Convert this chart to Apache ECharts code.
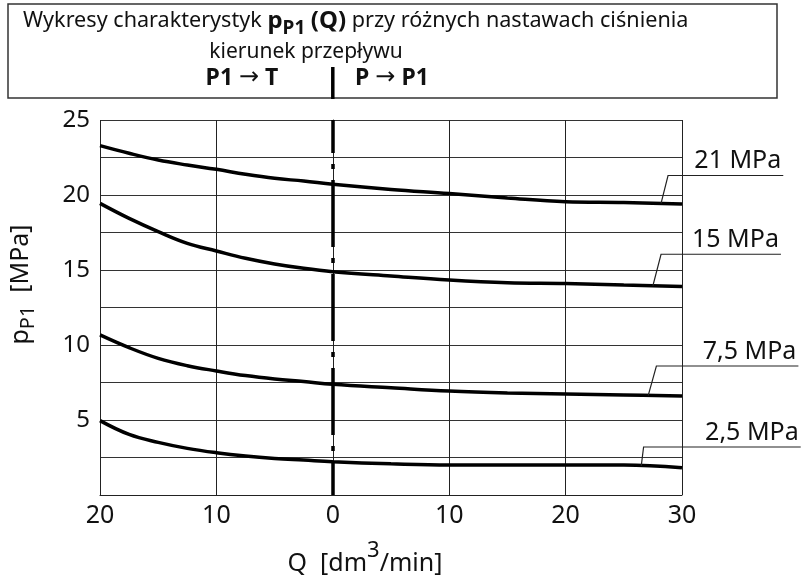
<!DOCTYPE html>
<html><head><meta charset="utf-8">
<script src="https://cdn.jsdelivr.net/npm/echarts@6/dist/echarts.min.js"></script>
<style>html,body{margin:0;padding:0;background:#fff}#c{width:802px;height:576px}</style>
</head><body><div id="c"></div>
<script>
// ---- data ----
const qValues = [-20, -17.5, -15, -12.5, -10, -7.5, -5, -2.5, 0, 5, 10, 15, 20, 25, 30];
const p21 = [23.29, 22.78, 22.33, 22.0, 21.71, 21.38, 21.11, 20.93, 20.71, 20.37, 20.1, 19.8, 19.55, 19.5, 19.4];
const p15 = [19.44, 18.44, 17.56, 16.78, 16.27, 15.78, 15.4, 15.11, 14.89, 14.6, 14.33, 14.15, 14.1, 14.0, 13.9];
const p75 = [10.67, 9.82, 9.11, 8.62, 8.27, 7.96, 7.73, 7.56, 7.38, 7.15, 6.93, 6.8, 6.73, 6.67, 6.6];
const p25 = [4.96, 4.04, 3.51, 3.11, 2.82, 2.6, 2.44, 2.33, 2.22, 2.08, 2.0, 2.0, 2.0, 2.0, 1.82];
const seriesNames = ['21 MPa', '15 MPa', '7,5 MPa', '2,5 MPa'];
const seriesValues = [p21, p15, p75, p25];
const yLabelValues = [5, 10, 15, 20, 25];
const dividerQ = 0;

// ---- annotation layout (leader anchor Q on curve, underline level / span in axis units) ----
const annot = [
  {q: 28.2, lineP: 21.3, q0: 28.8, q1: 38.7},
  {q: 27.5, lineP: 16.05, q0: 28.2, q1: 38.5},
  {q: 27.1, lineP: 8.6, q0: 27.8, q1: 40.0},
  {q: 26.5, lineP: 3.2, q0: 26.7, q1: 40.2}
];

const F = "'Noto Sans', sans-serif";
const FA = "'DejaVu Sans', sans-serif";
const INK = '#111';

function pairs(vals) { return qValues.map((q, i) => [q, vals[i]]); }
function interp(vals, q) {
  for (let i = 0; i < qValues.length - 1; i++) {
    if (q >= qValues[i] && q <= qValues[i + 1]) {
      const t = (q - qValues[i]) / (qValues[i + 1] - qValues[i]);
      return vals[i] + t * (vals[i + 1] - vals[i]);
    }
  }
  return vals[vals.length - 1];
}

const chart = echarts.init(document.getElementById('c'), null, {renderer: 'canvas'});

const series = seriesNames.map((name, i) => {
  const s = {
    name: name, type: 'line', data: pairs(seriesValues[i]),
    smooth: 0.4, symbol: 'none', silent: true,
    lineStyle: {color: '#000', width: 3.5},
    z: 5
  };
  if (i === 0) {
    s.markLine = {
      silent: true, symbol: 'none', label: {show: false},
      lineStyle: {color: '#000', width: 3.5, type: [67, 11, 5, 11], dashOffset: 34, cap: 'butt'},
      data: [[{coord: [dividerQ, 25]}, {coord: [dividerQ, 0]}]]
    };
  }
  return s;
});

chart.setOption({
  animation: false,
  backgroundColor: '#fff',
  grid: {left: 100, right: 120, top: 120, bottom: 81, containLabel: false, outerBoundsMode: 'none'},
  xAxis: {
    type: 'value', min: -20, max: 30, interval: 10,
    axisLine: {show: true, lineStyle: {color: '#222', width: 1}},
    axisTick: {show: false},
    splitLine: {show: true, lineStyle: {color: '#222', width: 1}},
    axisLabel: {fontFamily: F, fontSize: 25, color: INK, margin: 8,
      formatter: v => String(Math.abs(v))},
    name: '{n|Q  [dm}{sup|3}{n|/min]}',
    nameLocation: 'middle', nameGap: 45,
    nameTextStyle: {
      padding: [0, 52, 0, 0],
      rich: {
        n: {fontFamily: F, fontSize: 25, color: INK},
        sup: {fontFamily: F, fontSize: 22, color: INK, padding: [0, 0, 26, 0]}
      }
    }
  },
  yAxis: {
    type: 'value', min: 0, max: 25, interval: 2.5,
    axisLine: {show: true, lineStyle: {color: '#222', width: 1}},
    axisTick: {show: false},
    splitLine: {show: true, lineStyle: {color: '#333', width: 1}},
    axisLabel: {fontFamily: F, fontSize: 24, color: INK, margin: 10,
      formatter: v => (yLabelValues.indexOf(v) >= 0 ? String(v) : '')},
    name: '{n|p}{s|P1}{n|  [MPa]}',
    nameLocation: 'middle', nameRotate: 90, nameGap: 62,
    nameTextStyle: {
      padding: [0, 0, 0, 46],
      rich: {
        n: {fontFamily: F, fontSize: 25, color: INK},
        s: {fontFamily: F, fontSize: 20, color: INK, padding: [14, 0, 0, 0]}
      }
    }
  },
  series: series
});

// ---- graphics: header box + annotations ----
const px = (q, p) => chart.convertToPixel({xAxisIndex: 0, yAxisIndex: 0}, [q, p]);
const g = [];
g.push({type: 'rect', shape: {x: 8, y: 4, width: 769, height: 94},
  style: {fill: 'none', stroke: '#333', lineWidth: 1.5}, silent: true});
g.push({type: 'text', x: 23, y: 21, silent: true, style: {
  text: 'Wykresy charakterystyk {b|p}{s|P1} {b|(Q)} przy różnych nastawach ciśnienia',
  fontFamily: F, fontSize: 21.6, fill: INK, verticalAlign: 'middle',
  rich: {
    b: {fontFamily: F, fontSize: 24, fontWeight: 'bold', fill: INK},
    s: {fontFamily: F, fontSize: 19, fontWeight: 'bold', fill: INK, padding: [16, 0, 0, 0]}
  }}});
g.push({type: 'text', x: 306, y: 52, silent: true, style: {
  text: 'kierunek przepływu', fontFamily: F, fontSize: 21, fill: INK,
  align: 'center', verticalAlign: 'middle'}});
const divX = px(dividerQ, 0)[0];
const arrowRich = {
  a: {fontFamily: FA, fontSize: 24, fontWeight: 'normal', fill: INK},
  t: {fontFamily: F, fontSize: 23, fontWeight: 'bold', fill: INK}
};
g.push({type: 'text', x: 242, y: 78, silent: true, style: {
  text: '{t|P1 }{a|→}{t| T}', fontFamily: F, fontSize: 23, fill: INK,
  align: 'center', verticalAlign: 'middle', rich: arrowRich}});
g.push({type: 'text', x: 392, y: 78, silent: true, style: {
  text: '{t|P }{a|→}{t| P1}', fontFamily: F, fontSize: 23, fill: INK,
  align: 'center', verticalAlign: 'middle', rich: arrowRich}});
g.push({type: 'line', silent: true, shape: {x1: divX, y1: 67, x2: divX, y2: 99},
  style: {stroke: '#000', lineWidth: 3.5}});

annot.forEach((a, i) => {
  const anchor = px(a.q, interp(seriesValues[i], a.q));
  const start = px(a.q0, a.lineP);
  const end = px(a.q1, a.lineP);
  g.push({type: 'polyline', silent: true, z: 10,
    shape: {points: [anchor, start, end]},
    style: {fill: 'none', stroke: '#222', lineWidth: 1.2}});
  g.push({type: 'text', silent: true, z: 10, x: end[0] - 2, y: start[1] - 2, style: {
    text: seriesNames[i], fontFamily: F, fontSize: 25, fill: INK,
    align: 'right', verticalAlign: 'bottom'}});
});

chart.setOption({graphic: g});
</script></body></html>
